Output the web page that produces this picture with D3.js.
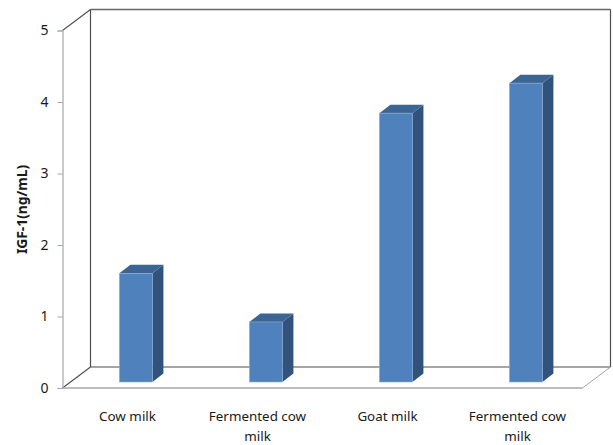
<!DOCTYPE html>
<html>
<head>
<meta charset="utf-8">
<style>
html,body{margin:0;padding:0;background:#fff;}
svg{display:block;}
text{font-family:"Noto Sans","Open Sans",sans-serif;fill:#1a1a1a;}
</style>
<script src="https://cdn.jsdelivr.net/npm/d3@7/dist/d3.min.js"></script>
</head>
<body>
<svg id="chart" width="613" height="445"></svg>
<script>
// IGF-1 concentration per milk type
const categories = [["Cow milk"], ["Fermented cow", "milk"], ["Goat milk"], ["Fermented cow", "milk"]];
const values = [1.52, 0.84, 3.76, 4.18];
const tickValues = [0, 1, 2, 3, 4, 5];
const axisTitle = "IGF-1(ng/mL)";

const svg = d3.select("#chart");

// Front plane of the 3D box
const front = {left: 62.5, right: 582.5, bottom: 388, top: 30.5};
// Depth of the box, and of each column
const wallDepth = {dx: 28, dy: -21};
const barDepth = {dx: 11, dy: -8.5};
// Columns stand part of the way into the floor
const barInset = {dx: 8.4, dy: -6};

const x = d3.scaleBand().domain(d3.range(categories.length))
  .range([front.left, front.right]).paddingInner(0.746).paddingOuter(0.373);
const y = d3.scaleLinear().domain([0, 5]).range([front.bottom, front.top]);

const toPath = pts => d3.line()(pts) + "Z";

// Floor and back wall
const wallLeft = front.left + wallDepth.dx, wallRight = front.right + wallDepth.dx;
const wallTop = y(5) + wallDepth.dy, wallBottom = y(0) + wallDepth.dy;

const grey = "#a6a6a6", dark = "#4d4d4d";
const seg = (p, q, stroke, w) => svg.append("line")
  .attr("x1", p[0]).attr("y1", p[1]).attr("x2", q[0]).attr("y2", q[1])
  .attr("stroke", stroke).attr("stroke-width", w);

seg([wallLeft, wallTop], [wallRight, wallTop], "#666", 1.5);
seg([wallLeft, wallTop], [wallLeft, wallBottom], dark, 1.2);
seg([wallRight, wallTop], [wallRight, wallBottom], dark, 1.2);
seg([wallLeft, wallBottom], [wallRight, wallBottom], dark, 1.2);
seg([front.left, y(5)], [wallLeft, wallTop], dark, 1.1);
seg([front.left, y(0)], [wallLeft, wallBottom], dark, 1.1);
seg([front.right, y(0)], [wallRight, wallBottom], grey, 1);
seg([front.left, y(0)], [front.right, y(0)], grey, 1.4);

// Value axis on the front plane
const yAxis = svg.append("g")
  .attr("transform", `translate(${front.left},0)`)
  .call(d3.axisLeft(y).tickValues(tickValues).tickFormat(d3.format("d")).tickSize(5).tickPadding(9));
yAxis.select(".domain").attr("stroke", grey).attr("stroke-width", 1.2);
yAxis.selectAll(".tick line").attr("stroke", grey);
yAxis.selectAll(".tick text").attr("font-size", 14).attr("fill", "#1a1a1a")
  .style("font-family", '"Noto Sans",sans-serif');

// Columns: side, top, then front face
const bars = svg.append("g").selectAll("g").data(values).join("g");
const bx0 = (d, i) => x(i) + barInset.dx;
const bx1 = (d, i) => bx0(d, i) + x.bandwidth();
const by0 = () => y(0) + barInset.dy;
const by1 = d => y(d) + barInset.dy;

bars.append("path").attr("fill", "#31527b")
  .attr("d", (d, i) => toPath([
    [bx1(d, i), by0()], [bx1(d, i) + barDepth.dx, by0() + barDepth.dy],
    [bx1(d, i) + barDepth.dx, by1(d) + barDepth.dy], [bx1(d, i), by1(d)]]));
bars.append("path").attr("fill", "#3d6594")
  .attr("d", (d, i) => toPath([
    [bx0(d, i), by1(d)], [bx1(d, i), by1(d)],
    [bx1(d, i) + barDepth.dx, by1(d) + barDepth.dy],
    [bx0(d, i) + barDepth.dx, by1(d) + barDepth.dy]]));
bars.append("rect").attr("fill", "#4f81bd")
  .attr("stroke", "#8eaed6").attr("stroke-width", 0.6)
  .attr("x", bx0).attr("y", by1)
  .attr("width", x.bandwidth())
  .attr("height", d => by0() - by1(d));

// Category labels, wrapped onto two lines where needed
svg.append("g").selectAll("text").data(categories).join("text")
  .attr("text-anchor", "middle")
  .attr("font-size", 13.4)
  .attr("transform", (d, i) => `translate(${x(i) + x.bandwidth() / 2},420.5)`)
  .selectAll("tspan").data(d => d).join("tspan")
  .attr("x", 0).attr("y", (d, i) => i * 20)
  .text(d => d);

// Axis title
svg.append("text")
  .attr("transform", "translate(27,209.5) rotate(-90)")
  .attr("text-anchor", "middle")
  .attr("font-size", 13.8).attr("font-weight", "bold")
  .text(axisTitle);
</script>
</body>
</html>
